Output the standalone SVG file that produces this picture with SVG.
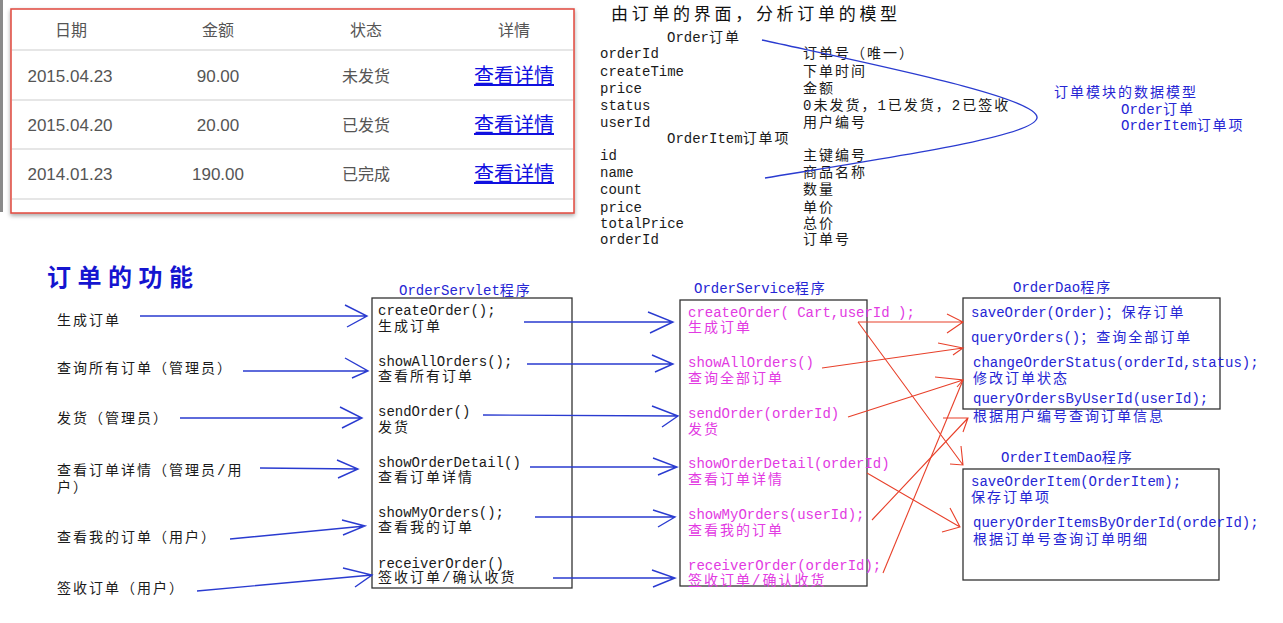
<svg xmlns="http://www.w3.org/2000/svg" width="1283" height="623" viewBox="0 0 1283 623">
<defs>
<style>
.m{font-family:"Liberation Mono","Noto Sans CJK SC",monospace;font-size:14px}
.c{letter-spacing:2px}
.blk{fill:#1a1a1a}
.blue{fill:#2626d4}
.mag{fill:#e23ae2}
.tb{font-family:"Liberation Sans","Noto Sans CJK SC",sans-serif;fill:#555;text-anchor:middle}
.lnk{font-family:"Noto Sans CJK SC",sans-serif;fill:#1010e0;font-size:20px;text-anchor:middle;text-decoration:underline}
.box{fill:none;stroke:#333;stroke-width:1.3}
.bl{fill:none;stroke:#2a3bd0;stroke-width:1.4}
.rd{fill:none;stroke:#e8402a;stroke-width:1.1}
.sep{stroke:#dedede;stroke-width:1.5}
</style>
<filter id="sh" x="-5%" y="-5%" width="110%" height="115%">
<feDropShadow dx="0" dy="2" stdDeviation="2" flood-color="#000" flood-opacity="0.35"/>
</filter>
</defs>
<rect width="1283" height="623" fill="#fff"/>
<rect x="0" y="0" width="3" height="212" fill="#8a8a8a"/>

<g id="order-table">
<rect x="11" y="9" width="563" height="204" fill="#fff" stroke="#e0483c" stroke-width="1.5" filter="url(#sh)"/>
<line class="sep" x1="12" y1="50" x2="573" y2="50"/>
<line class="sep" x1="12" y1="100" x2="573" y2="100"/>
<line class="sep" x1="12" y1="149" x2="573" y2="149"/>
<line class="sep" x1="12" y1="199" x2="573" y2="199"/>
<text class="tb" x="71" y="36" font-size="16">日期</text>
<text class="tb" x="218" y="36" font-size="16">金额</text>
<text class="tb" x="366" y="36" font-size="16">状态</text>
<text class="tb" x="514" y="36" font-size="16">详情</text>
<text class="tb" x="70" y="82" font-size="17">2015.04.23</text>
<text class="tb" x="218" y="82" font-size="17">90.00</text>
<text class="tb" x="366" y="82" font-size="16">未发货</text>
<text class="lnk" x="514" y="83">查看详情</text>
<text class="tb" x="70" y="131" font-size="17">2015.04.20</text>
<text class="tb" x="218" y="131" font-size="17">20.00</text>
<text class="tb" x="366" y="131" font-size="16">已发货</text>
<text class="lnk" x="514" y="132">查看详情</text>
<text class="tb" x="70" y="180" font-size="17">2014.01.23</text>
<text class="tb" x="218" y="180" font-size="17">190.00</text>
<text class="tb" x="366" y="180" font-size="16">已完成</text>
<text class="lnk" x="514" y="181">查看详情</text>
</g>

<g id="model">
<text x="611" y="20" font-family="Noto Sans CJK SC,sans-serif" font-size="17" letter-spacing="3.7" fill="#111">由订单的界面，分析订单的模型</text>
<text class="m blk" x="667" y="42">Order<tspan class="c">订单</tspan></text>
<text class="m blk" x="600" y="58">orderId</text><text class="m blk c" x="803" y="58">订单号（唯一）</text>
<text class="m blk" x="600" y="76">createTime</text><text class="m blk c" x="803" y="76">下单时间</text>
<text class="m blk" x="600" y="93">price</text><text class="m blk c" x="803" y="93">金额</text>
<text class="m blk" x="600" y="110">status</text><text class="m blk c" x="803" y="110">0未发货，1已发货，2已签收</text>
<text class="m blk" x="600" y="127">userId</text><text class="m blk c" x="803" y="127">用户编号</text>
<text class="m blk" x="667" y="143">OrderItem<tspan class="c">订单项</tspan></text>
<text class="m blk" x="600" y="160">id</text><text class="m blk c" x="803" y="160">主键编号</text>
<text class="m blk" x="600" y="177">name</text><text class="m blk c" x="803" y="177">商品名称</text>
<text class="m blk" x="600" y="194">count</text><text class="m blk c" x="803" y="194">数量</text>
<text class="m blk" x="600" y="212">price</text><text class="m blk c" x="803" y="212">单价</text>
<text class="m blk" x="600" y="228">totalPrice</text><text class="m blk c" x="803" y="228">总价</text>
<text class="m blk" x="600" y="244">orderId</text><text class="m blk c" x="803" y="244">订单号</text>
</g>

<g id="data-model-summary">
<text class="m blue c" x="1054" y="97">订单模块的数据模型</text>
<text class="m blue" x="1121" y="114">Order<tspan class="c">订单</tspan></text>
<text class="m blue" x="1121" y="130">OrderItem<tspan class="c">订单项</tspan></text>
</g>

<g id="functions">
<text x="47" y="286" font-family="Noto Sans CJK SC,sans-serif" font-weight="bold" font-size="24" letter-spacing="6.5" fill="#1515d0">订单的功能</text>
<text class="m blk c" x="57" y="325">生成订单</text>
<text class="m blk c" x="57" y="373">查询所有订单（管理员）</text>
<text class="m blk c" x="57" y="423">发货（管理员）</text>
<text class="m blk c" x="57" y="475">查看订单详情（管理员/用</text>
<text class="m blk c" x="57" y="492">户）</text>
<text class="m blk c" x="57" y="542">查看我的订单（用户）</text>
<text class="m blk c" x="57" y="593">签收订单（用户）</text>
</g>

<g id="order-servlet">
<text class="m blue" x="399" y="295">OrderServlet<tspan class="c">程序</tspan></text>
<rect class="box" x="372" y="298" width="200" height="290"/>
<text class="m blk" x="378" y="315">createOrder();</text>
<text class="m blk c" x="378" y="331">生成订单</text>
<text class="m blk" x="378" y="366">showAllOrders();</text>
<text class="m blk c" x="378" y="381">查看所有订单</text>
<text class="m blk" x="378" y="416">sendOrder()</text>
<text class="m blk c" x="378" y="432">发货</text>
<text class="m blk" x="378" y="467">showOrderDetail()</text>
<text class="m blk c" x="378" y="482">查看订单详情</text>
<text class="m blk" x="378" y="517">showMyOrders();</text>
<text class="m blk c" x="378" y="532">查看我的订单</text>
<text class="m blk" x="378" y="568">receiverOrder()</text>
<text class="m blk c" x="378" y="582">签收订单/确认收货</text>
</g>

<g id="order-service">
<text class="m blue" x="694" y="293">OrderService<tspan class="c">程序</tspan></text>
<rect class="box" x="680" y="300" width="187" height="286"/>
<text class="m mag" x="688" y="317">createOrder( Cart,userId );</text>
<text class="m mag c" x="688" y="332">生成订单</text>
<text class="m mag" x="688" y="367">showAllOrders()</text>
<text class="m mag c" x="688" y="383">查询全部订单</text>
<text class="m mag" x="688" y="418">sendOrder(orderId)</text>
<text class="m mag c" x="688" y="434">发货</text>
<text class="m mag" x="688" y="468">showOrderDetail(orderId)</text>
<text class="m mag c" x="688" y="484">查看订单详情</text>
<text class="m mag" x="688" y="519">showMyOrders(userId);</text>
<text class="m mag c" x="688" y="535">查看我的订单</text>
<text class="m mag" x="688" y="570">receiverOrder(orderId);</text>
<text class="m mag c" x="688" y="585">签收订单/确认收货</text>
</g>

<g id="order-dao">
<text class="m blue" x="1013" y="292">OrderDao<tspan class="c">程序</tspan></text>
<rect class="box" x="963" y="298" width="257" height="111"/>
<text class="m blue" x="971" y="317">saveOrder(Order)<tspan class="c">；保存订单</tspan></text>
<text class="m blue" x="971" y="342">queryOrders()<tspan class="c">；查询全部订单</tspan></text>
<text class="m blue" x="973" y="367">changeOrderStatus(orderId,status);</text>
<text class="m blue c" x="973" y="383">修改订单状态</text>
<text class="m blue" x="973" y="403">queryOrdersByUserId(userId);</text>
<text class="m blue c" x="973" y="421">根据用户编号查询订单信息</text>
</g>

<g id="orderitem-dao">
<text class="m blue" x="1001" y="462">OrderItemDao<tspan class="c">程序</tspan></text>
<rect class="box" x="963" y="469" width="256" height="111"/>
<text class="m blue" x="971" y="486">saveOrderItem(OrderItem);</text>
<text class="m blue c" x="971" y="502">保存订单项</text>
<text class="m blue" x="973" y="527">queryOrderItemsByOrderId(orderId);</text>
<text class="m blue c" x="973" y="544">根据订单号查询订单明细</text>
</g>

<g id="connectors">
<path class="bl" d="M762,40 C880,66 1040,98 1037,118 C1034,136 900,156 765,178"/>
<path class="bl" d="M140,316 L367,316 M345,305 L367,316 L347,327"/>
<path class="bl" d="M243,371 L368,371 M345,358 L368,371 L352,378"/>
<path class="bl" d="M180,418 L362,418 M340,407 L362,418 L342,428"/>
<path class="bl" d="M260,468 L358,469 M337,460 L358,469 L338,478"/>
<path class="bl" d="M230,539 L365,526 M342,520 L365,526 L343,535"/>
<path class="bl" d="M197,591 L372,575 M343,568 L372,575 L355,587"/>
<path class="bl" d="M524,322 L673,322 M648,312 L673,322 L650,333"/>
<path class="bl" d="M527,364 L673,364 M652,355 L673,364 L655,372"/>
<path class="bl" d="M483,415 L678,416 M652,406 L678,416 L662,427"/>
<path class="bl" d="M530,467 L677,467 M653,458 L677,467 L658,475"/>
<path class="bl" d="M535,517 L675,517 M653,510 L675,517 L658,527"/>
<path class="bl" d="M553,578 L675,578 M652,570 L675,578 L653,587"/>
<path class="rd" d="M858,322 L963,322 M947,314 L963,322 L947,333"/>
<path class="rd" d="M858,322 L963,465 M961,446 L963,465 L950,464"/>
<path class="rd" d="M822,368 L963,348 M938,343 L963,348 L953,355"/>
<path class="rd" d="M848,417 L963,380 M935,377 L963,380 L957,387"/>
<path class="rd" d="M883,573 L963,380"/>
<path class="rd" d="M867,473 L960,527 M950,508 L960,527 L942,532"/>
<path class="rd" d="M872,520 L968,418 M943,418 L968,418 L963,432"/>
</g>
</svg>
